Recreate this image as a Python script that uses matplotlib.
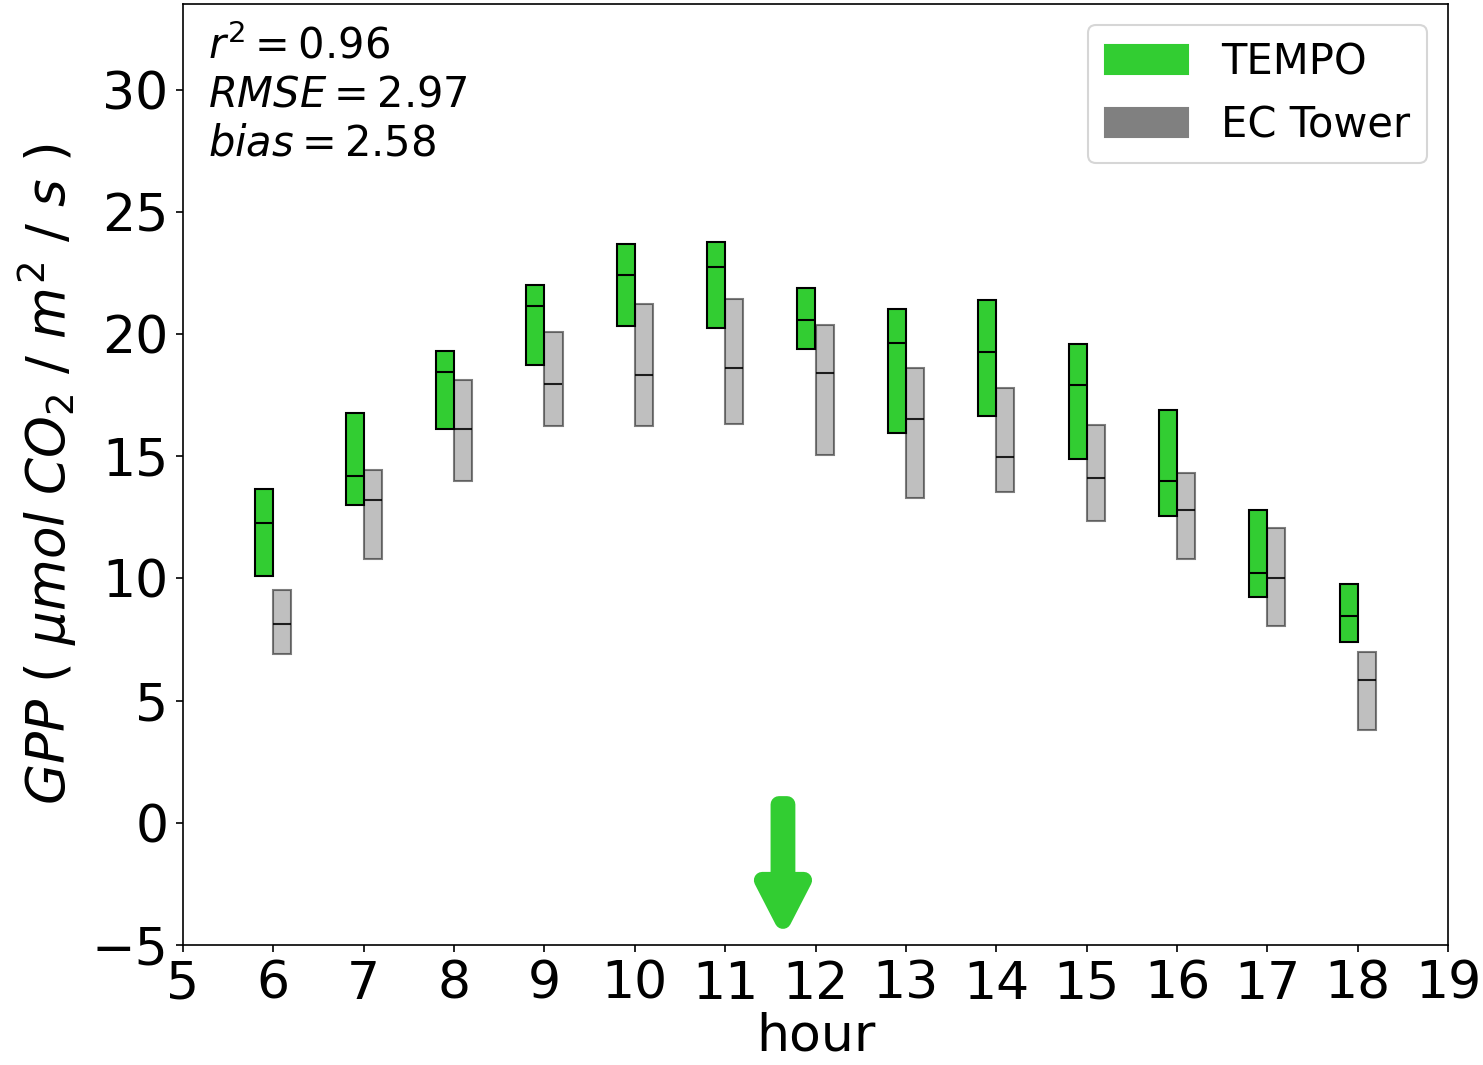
import matplotlib
matplotlib.use("Agg")
import matplotlib.pyplot as plt
from matplotlib.patches import Patch
import numpy as np

hours = [6, 7, 8, 9, 10, 11, 12, 13, 14, 15, 16, 17, 18]

tempo_q1 = [10.11, 13.02, 16.13, 18.71, 20.34, 20.26, 19.40, 15.96, 16.66, 14.90, 12.57, 9.25, 7.41]
tempo_med = [12.28, 14.20, 18.46, 21.16, 22.43, 22.72, 20.59, 19.65, 19.28, 17.93, 14.00, 10.23, 8.47]
tempo_q3 = [13.67, 16.78, 19.32, 22.02, 23.70, 23.78, 21.90, 21.04, 21.37, 19.57, 16.90, 12.81, 9.78]

ec_q1 = [6.92, 10.81, 14.00, 16.25, 16.25, 16.33, 15.06, 13.30, 13.55, 12.36, 10.81, 8.06, 3.81]
ec_med = [8.15, 13.22, 16.13, 17.97, 18.34, 18.62, 18.42, 16.54, 14.98, 14.12, 12.81, 10.03, 5.85]
ec_q3 = [9.54, 14.45, 18.13, 20.10, 21.24, 21.41, 20.38, 18.62, 17.77, 16.29, 14.33, 12.08, 7.00]

stats_text = "$r^2 = 0.96$\n$RMSE = 2.97$\n$bias = 2.58$"

fig = plt.figure(figsize=(1483 / 150, 1065 / 150), dpi=150)
ax = fig.add_axes([183 / 1483, 120 / 1065, (1448 - 183) / 1483, (1061 - 120) / 1065])

h = np.array(hours, dtype=float)
w = 0.2
tq1, tmd, tq3 = map(np.array, (tempo_q1, tempo_med, tempo_q3))
eq1, emd, eq3 = map(np.array, (ec_q1, ec_med, ec_q3))

ax.bar(h - 0.1, tq3 - tq1, bottom=tq1, width=w, color='limegreen',
       edgecolor='black', linewidth=1.0, zorder=3)
ax.hlines(tmd, h - 0.2, h, color='black', linewidth=1.0, zorder=4)

ax.bar(h + 0.1, eq3 - eq1, bottom=eq1, width=w, color='gray',
       edgecolor='black', linewidth=1.0, alpha=0.5, zorder=2)
ax.hlines(emd, h, h + 0.2, color='black', linewidth=1.0, alpha=0.85, zorder=4)

arr = ax.arrow(11.64, 0.75, 0, -4.75, width=0.09, head_width=0.46, head_length=1.65,
               length_includes_head=True, fc='limegreen', ec='limegreen', lw=8,
               zorder=5)
arr.set_joinstyle('round')
arr.set_capstyle('round')

ax.set_xlim(5, 19)
ax.set_ylim(-5, 33.5)
ax.set_xticks(range(5, 20))
ax.set_yticks(range(-5, 31, 5))
ax.tick_params(labelsize=25)
ax.set_xlabel("hour", fontsize=25, labelpad=1)
ax.set_ylabel(r"$GPP\ (\ \mu mol\ CO_2\ /\ m^2\ /\ s\ )$", fontsize=25.5, labelpad=6)

ax.text(0.02, 0.978, stats_text, transform=ax.transAxes, fontsize=20,
        va='top', ha='left', linespacing=1.2)

handles = [Patch(color='limegreen', label='TEMPO'), Patch(color='gray', label='EC Tower')]
ax.legend(handles=handles, loc='upper right', fontsize=20, borderaxespad=0.5)

fig.savefig("out.png", dpi=150)
